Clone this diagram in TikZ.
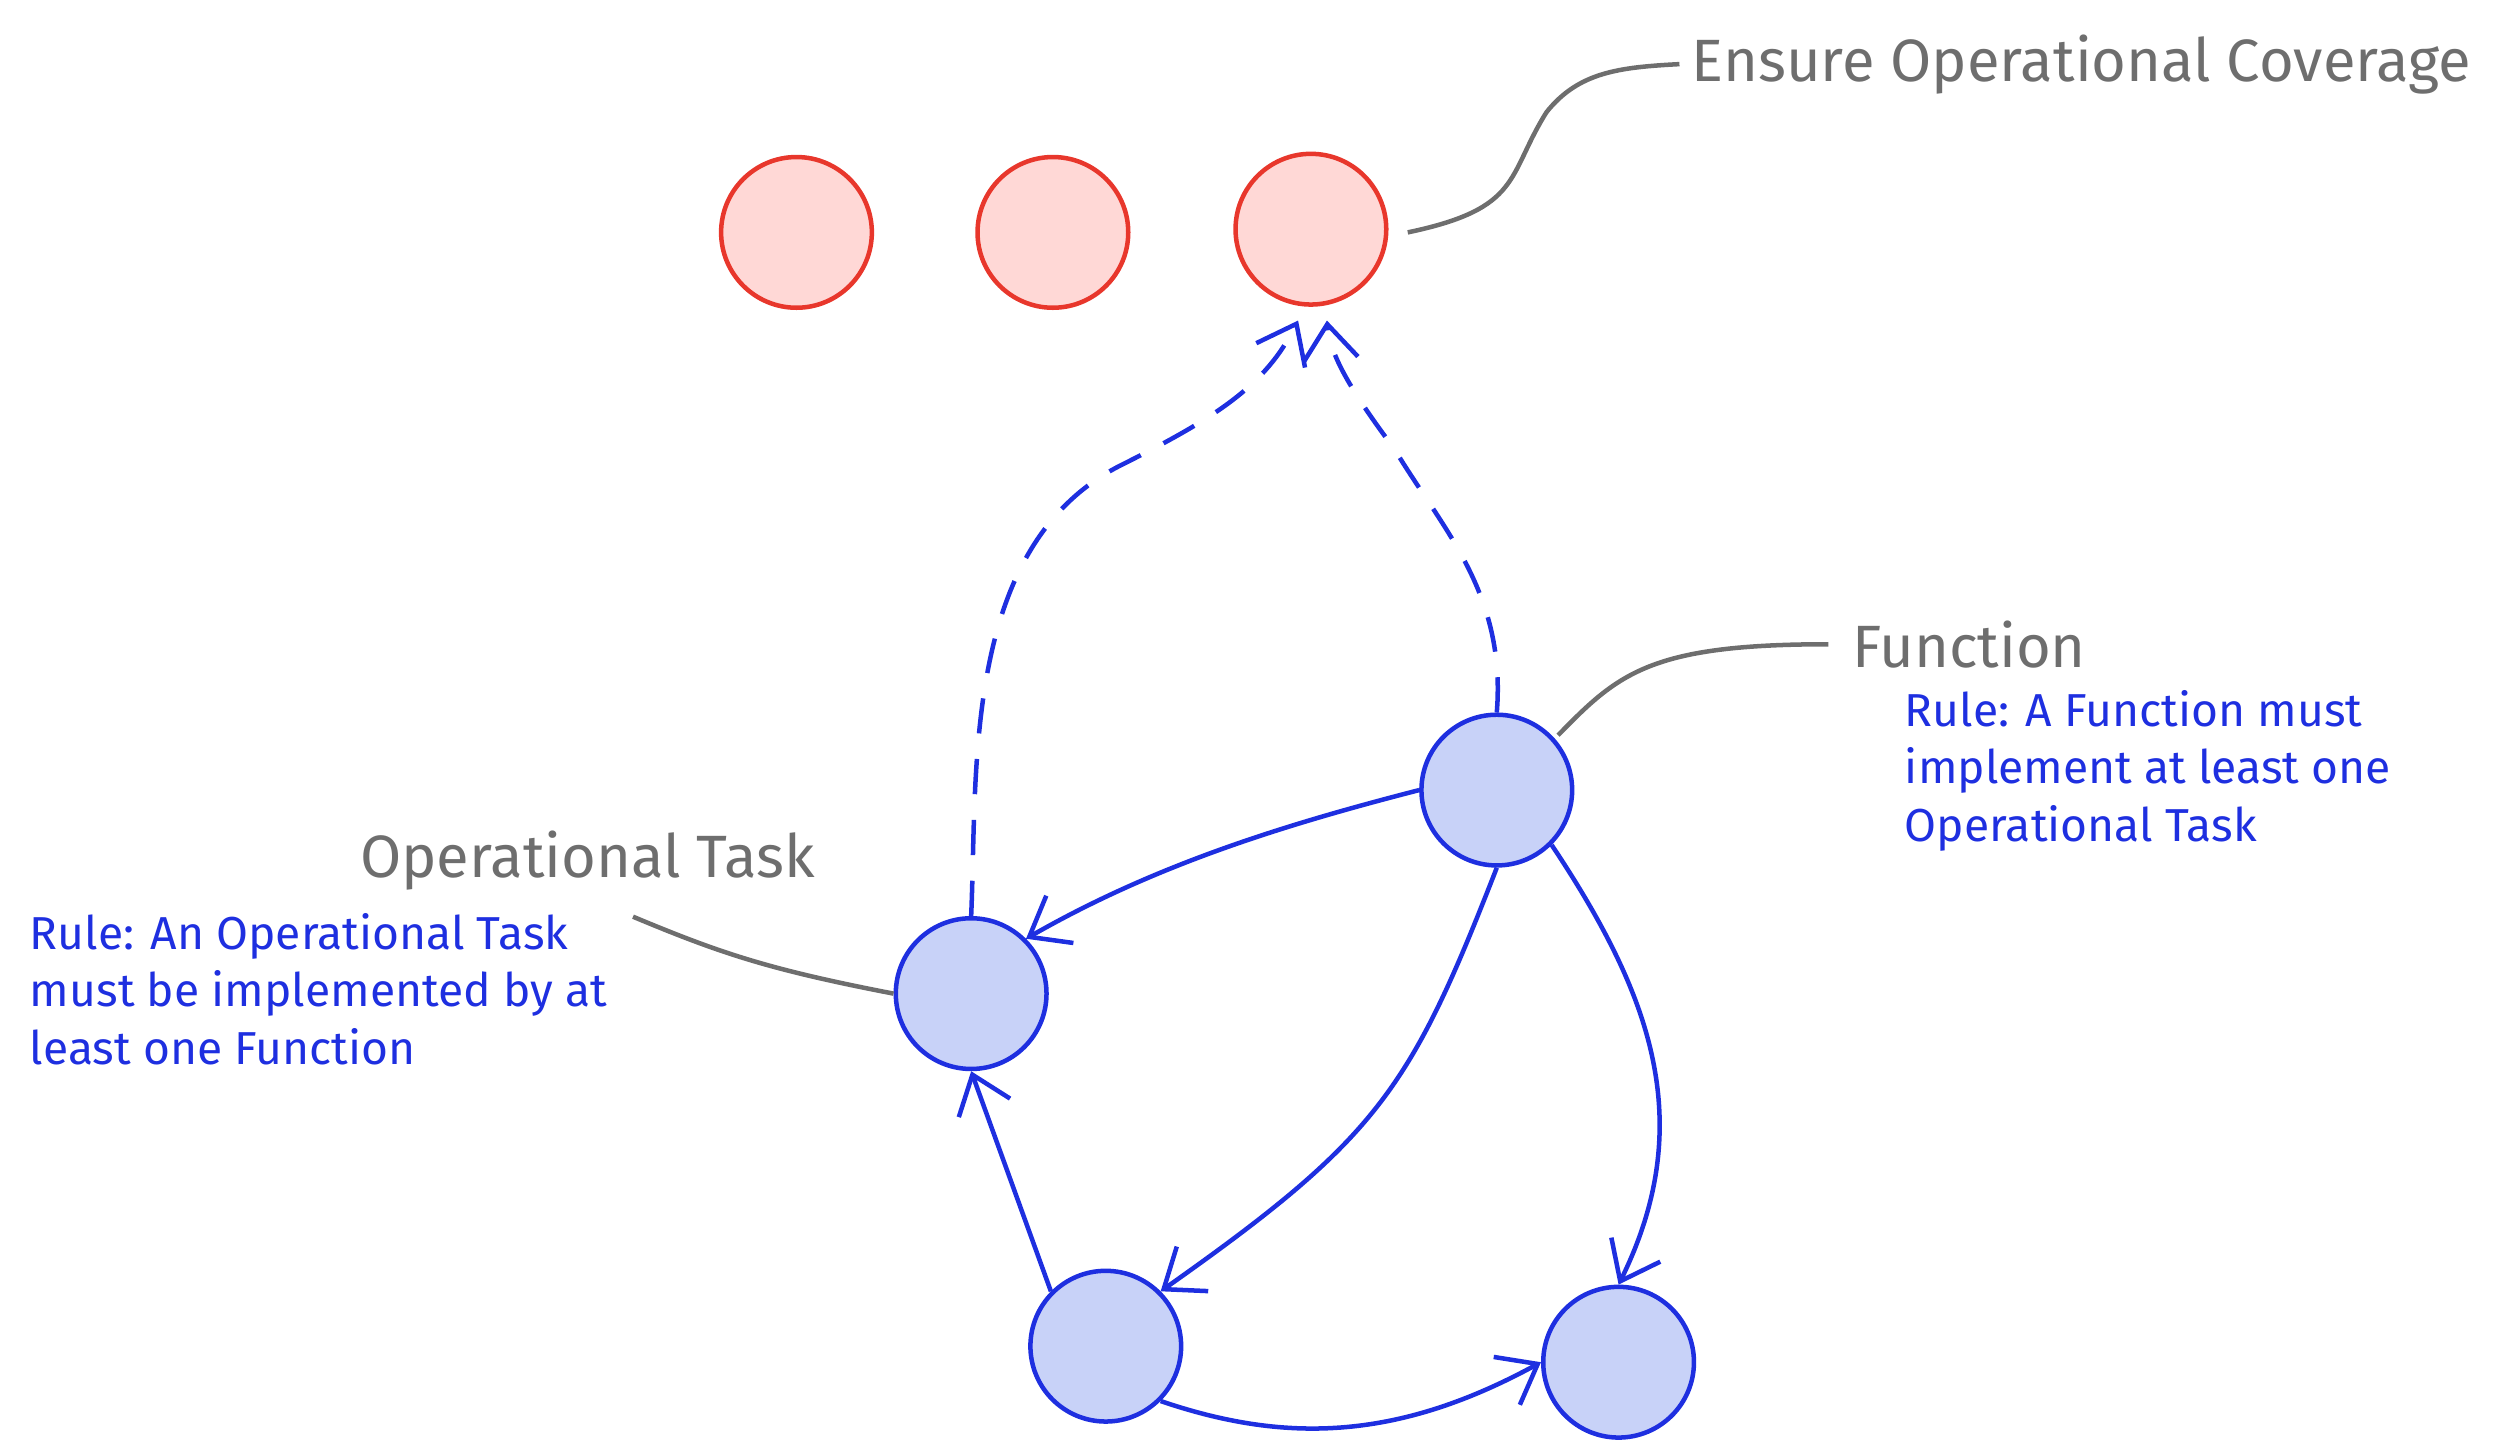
\documentclass[tikz,border=0pt]{standalone}
\usepackage{fontspec}
\setmainfont{Fira Sans}
\usetikzlibrary{arrows.meta}
\definecolor{blueline}{HTML}{1E2FE0}
\definecolor{bluefill}{HTML}{C8D2F8}
\definecolor{redline}{HTML}{E8372C}
\definecolor{redfill}{HTML}{FFD8D6}
\definecolor{greytext}{HTML}{6E6E6E}
\tikzset{%
  redball/.style  = {circle, draw=redline, fill=redfill, thick, minimum size=0.94cm, inner sep=0pt},%
  blueball/.style = {circle, draw=blueline, fill=bluefill, thick, minimum size=0.94cm, inner sep=0pt},%
  link/.style     = {draw=blueline, thick, -{Straight Barb[length=2.2mm,width=3.4mm]}},%
  dashlink/.style = {link, dash pattern=on 2.2mm off 1.6mm},%
  leader/.style   = {draw=greytext, thick},%
  title/.style    = {text=greytext, font=\fontsize{10.6}{12}\selectfont, anchor=west, inner sep=0pt},%
  rule/.style     = {text=blueline, font=\fontsize{8.2}{10.2}\selectfont, align=left, anchor=north west, inner sep=0pt}%
}
\begin{document}
\begin{tikzpicture}[x=0.01cm,y=-0.01cm]
  \useasboundingbox (0,0) rectangle (1560,908);
  % goal circles
  \node [redball] (g1) at (497,145) {};
  \node [redball] (g2) at (657,145) {};
  \node [redball] (g3) at (818,143) {};
  % element circles
  \node [blueball] (fn) at (934,493) {};
  \node [blueball] (ot) at (606,620) {};
  \node [blueball] (bl) at (690,840) {};
  \node [blueball] (br) at (1010,850) {};
  % labels
  \node [title] (goal) at (1055,40) {Ensure Operational Coverage};
  \node [title] (fnlab) at (1155,402) {Function};
  \node [rule] (fnrule) at (1188,430) {Rule: A Function must\\implement at least one\\Operational Task};
  \node [title] (otlab) at (224,537) {Operational Task};
  \node [rule] (otrule) at (18,569) {Rule: An Operational Task\\must be implemented by at\\least one Function};
  \coordinate (otend) at (395,572);
  % leaders
  \draw [leader] (g3.east) ++(12,2) coordinate (c1) .. controls (950,130) and (940,110) .. (965,70)
        .. controls (985,45) and (1010,42) .. ([xshift=-2]goal.west);
  \draw [leader] (fn.north east) ++(4,0) coordinate (c2) .. controls (1010,420) and (1030,402) .. ([xshift=-4]fnlab.west);
  \draw [leader] (ot.west) .. controls (480,605) and (450,595) .. (otend);
  % connectors
  \draw [dashlink] (ot.north) .. controls (610,480) and (600,340) .. (700,290) .. controls (760,260) and (790,240) .. (810,200);
  \draw [dashlink] (fn.north) .. controls (940,370) and (900,330) .. (870,280) .. controls (840,240) and (830,220) .. (828,200);
  \draw [link] (fn.west) .. controls (800,515) and (720,540) .. (ot.north east);
  \draw [link] (fn.south) .. controls (880,680) and (860,710) .. (bl.north east);
  \draw [link] (fn.south east) .. controls (1030,620) and (1060,700) .. (br.north);
  \draw [link] (bl.north west) -- (ot.south);
  \draw [link] (bl.south east) .. controls (800,900) and (870,900) .. (br.west);
\end{tikzpicture}
\end{document}
